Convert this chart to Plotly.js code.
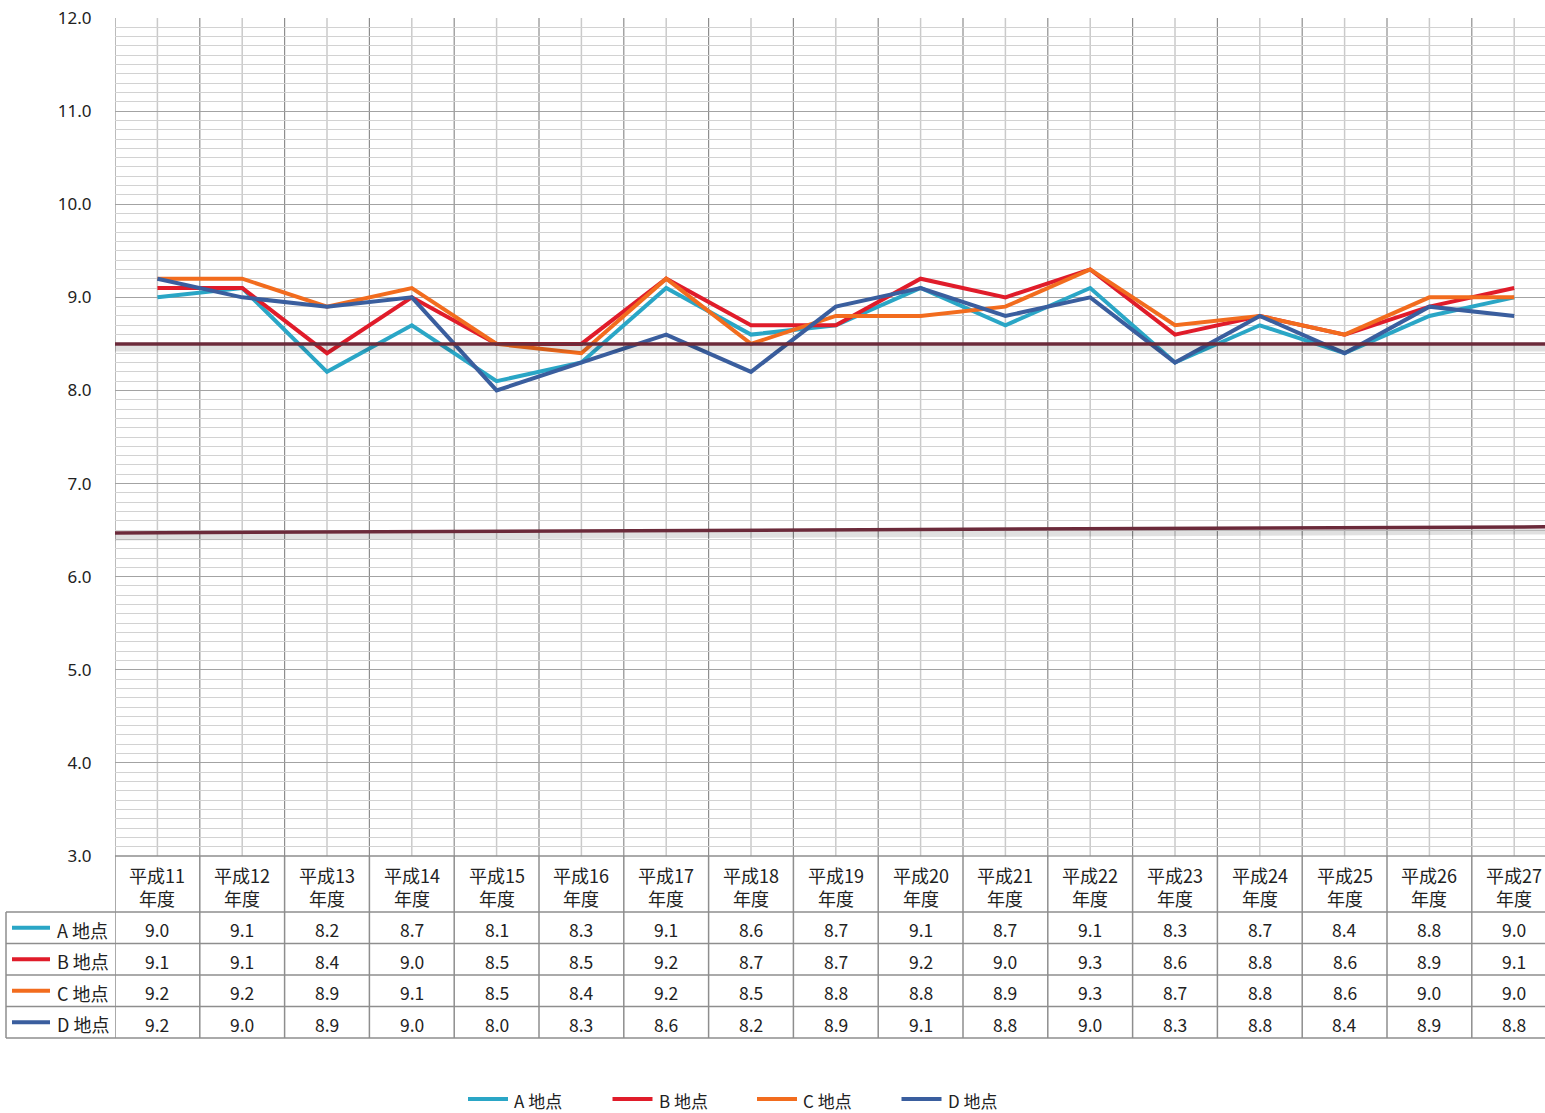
<!DOCTYPE html>
<html><head><meta charset="utf-8">
<script src="https://cdn.plot.ly/plotly-3.0.1.min.js"></script>
<style>body{margin:0;background:#fff;overflow:hidden}</style>
</head><body><div id="chart" style="width:1545px;height:1113px"></div>
<script>
// ---- data ----
const years = ['平成11','平成12','平成13','平成14','平成15','平成16','平成17','平成18','平成19','平成20','平成21','平成22','平成23','平成24','平成25','平成26','平成27'];
const categories = years.map(y => y + '年度');
const seriesNames = ['A 地点','B 地点','C 地点','D 地点'];
const valuesA = [9.0,9.1,8.2,8.7,8.1,8.3,9.1,8.6,8.7,9.1,8.7,9.1,8.3,8.7,8.4,8.8,9.0];
const valuesB = [9.1,9.1,8.4,9.0,8.5,8.5,9.2,8.7,8.7,9.2,9.0,9.3,8.6,8.8,8.6,8.9,9.1];
const valuesC = [9.2,9.2,8.9,9.1,8.5,8.4,9.2,8.5,8.8,8.8,8.9,9.3,8.7,8.8,8.6,9.0,9.0];
const valuesD = [9.2,9.0,8.9,9.0,8.0,8.3,8.6,8.2,8.9,9.1,8.8,9.0,8.3,8.8,8.4,8.9,8.8];
const upperLimit = 8.5;
const lowerLimit = 6.5;
const yMin = 3, yMax = 12;

// ---- styles ----
const colors = ['#2aa6c6','#e01c2a','#f26c1e','#3a5e9e'];
const allValues = [valuesA, valuesB, valuesC, valuesD];
const W = 1545, H = 1113, L = 115, T = 18, B = 856;
const colW = 84.8;                       // column width in px (last column is cut by the page edge)
const plotW = W - L, plotH = B - T;
const xp = px => (px - L) / plotW;
const yp = py => (B - py) / plotH;
const font = '"Noto Sans CJK JP", "Noto Sans", sans-serif';
const n = categories.length;
const xMax = -0.5 + plotW / colW;

const traces = allValues.map((vals, i) => ({
  type: 'scatter', mode: 'lines', name: seriesNames[i],
  x: categories, y: vals,
  line: {color: colors[i], width: 4},
  cliponaxis: false,
  hoverinfo: 'x+y'
}));

const shapes = [];
const annotations = [];

// vertical grid lines in plot area
for (let i = 0; i < n; i++) {
  shapes.push({type:'line', layer:'below', xref:'x', yref:'y', x0:i, x1:i, y0:yMin, y1:yMax, line:{color:'#cacaca', width:1.5}});
  shapes.push({type:'line', layer:'below', xref:'x', yref:'y', x0:i-0.5, x1:i-0.5, y0:yMin, y1:yMax, line:{color:'#8e8e8e', width:1.2}});
}

// limit lines (with soft shadow)
shapes.push({type:'line', layer:'above', xref:'paper', yref:'y', x0:0, x1:1, y0:upperLimit-0.05, y1:upperLimit-0.05, line:{color:'rgba(0,0,0,0.12)', width:6}});
shapes.push({type:'line', layer:'above', xref:'paper', yref:'y', x0:0, x1:1, y0:upperLimit, y1:upperLimit, line:{color:'#6b2a3a', width:3.5}});
shapes.push({type:'line', layer:'above', xref:'paper', yref:'y', x0:0, x1:1, y0:lowerLimit-0.08, y1:lowerLimit-0.015, line:{color:'rgba(0,0,0,0.12)', width:6}});
shapes.push({type:'line', layer:'above', xref:'paper', yref:'y', x0:0, x1:1, y0:lowerLimit-0.03, y1:lowerLimit+0.035, line:{color:'#6b2a3a', width:3.5}});

// ---- data table below plot ----
const tblColor = '#8e8e8e';
const rowEdges = [856, 912, 943.5, 975, 1006.5, 1038];
const textShift = 2;   // visual centring of text inside cells
shapes.push({type:'line', xref:'paper', yref:'paper', x0:0, x1:1, y0:yp(856), y1:yp(856), line:{color:tblColor, width:1.5}});
for (let r = 1; r < rowEdges.length; r++) {
  shapes.push({type:'line', xref:'paper', yref:'paper', x0:xp(6), x1:1, y0:yp(rowEdges[r]), y1:yp(rowEdges[r]), line:{color:tblColor, width:1.5}});
}
shapes.push({type:'line', xref:'paper', yref:'paper', x0:xp(6), x1:xp(6), y0:yp(912), y1:yp(1038), line:{color:tblColor, width:1.5}});
for (let i = 0; i < n; i++) {
  shapes.push({type:'line', xref:'x', yref:'paper', x0:i-0.5, x1:i-0.5, y0:yp(856), y1:yp(1038), line:{color:tblColor, width:1.5}});
}
years.forEach((y, i) => {
  annotations.push({xref:'x', yref:'paper', x:i, y:yp(886), text: y + '<br>年度', showarrow:false,
    font:{family:font, size:18, color:'#222'}, align:'center', xanchor:'center', yanchor:'middle'});
});
allValues.forEach((vals, r) => {
  const cy = (rowEdges[r+1] + rowEdges[r+2]) / 2;
  shapes.push({type:'line', xref:'paper', yref:'paper', x0:xp(12), x1:xp(50), y0:yp(cy), y1:yp(cy), line:{color:colors[r], width:4}});
  annotations.push({xref:'paper', yref:'paper', x:xp(55), y:yp(cy + textShift), text:seriesNames[r], showarrow:false,
    font:{family:font, size:18, color:'#222'}, xanchor:'left', yanchor:'middle'});
  vals.forEach((v, i) => {
    annotations.push({xref:'x', yref:'paper', x:i, y:yp(cy + textShift), text:v.toFixed(1), showarrow:false,
      font:{family:font, size:17.5, color:'#222'}, xanchor:'center', yanchor:'middle'});
  });
});

// ---- bottom legend (drawn manually for exact layout) ----
const legendStart = 468, legendStep = 144.5, legendY = 1099;
seriesNames.forEach((name, i) => {
  const x0 = legendStart + i * legendStep;
  shapes.push({type:'line', xref:'paper', yref:'paper', x0:xp(x0), x1:xp(x0 + 40), y0:yp(legendY), y1:yp(legendY), line:{color:colors[i], width:4}});
  annotations.push({xref:'paper', yref:'paper', x:xp(x0 + 44), y:yp(legendY + 1), text:name, showarrow:false,
    font:{family:font, size:17, color:'#222'}, xanchor:'left', yanchor:'middle'});
});

const layout = {
  width: W, height: H,
  margin: {l: L, r: 0, t: T, b: H - B, pad: 0},
  paper_bgcolor: '#fff', plot_bgcolor: '#fff',
  showlegend: false,
  xaxis: {type:'category', range:[-0.5, xMax], showticklabels:false, showgrid:false, zeroline:false, showline:false, ticks:''},
  yaxis: {range:[yMin, yMax], dtick:1, tick0:0, tickformat:'.1f', showgrid:true, gridcolor:'#a3a3a3', gridwidth:1.2,
    minor:{dtick:0.1, showgrid:true, gridcolor:'#d2d2d2', gridwidth:1},
    zeroline:false, showline:false, ticks:'outside', ticklen:19, tickcolor:'rgba(0,0,0,0)',
    tickfont:{family:'"Noto Sans", sans-serif', size:17, color:'#222'}},
  shapes: shapes,
  annotations: annotations
};

Plotly.newPlot('chart', traces, layout, {displayModeBar:false, responsive:false});
</script>
</body></html>
